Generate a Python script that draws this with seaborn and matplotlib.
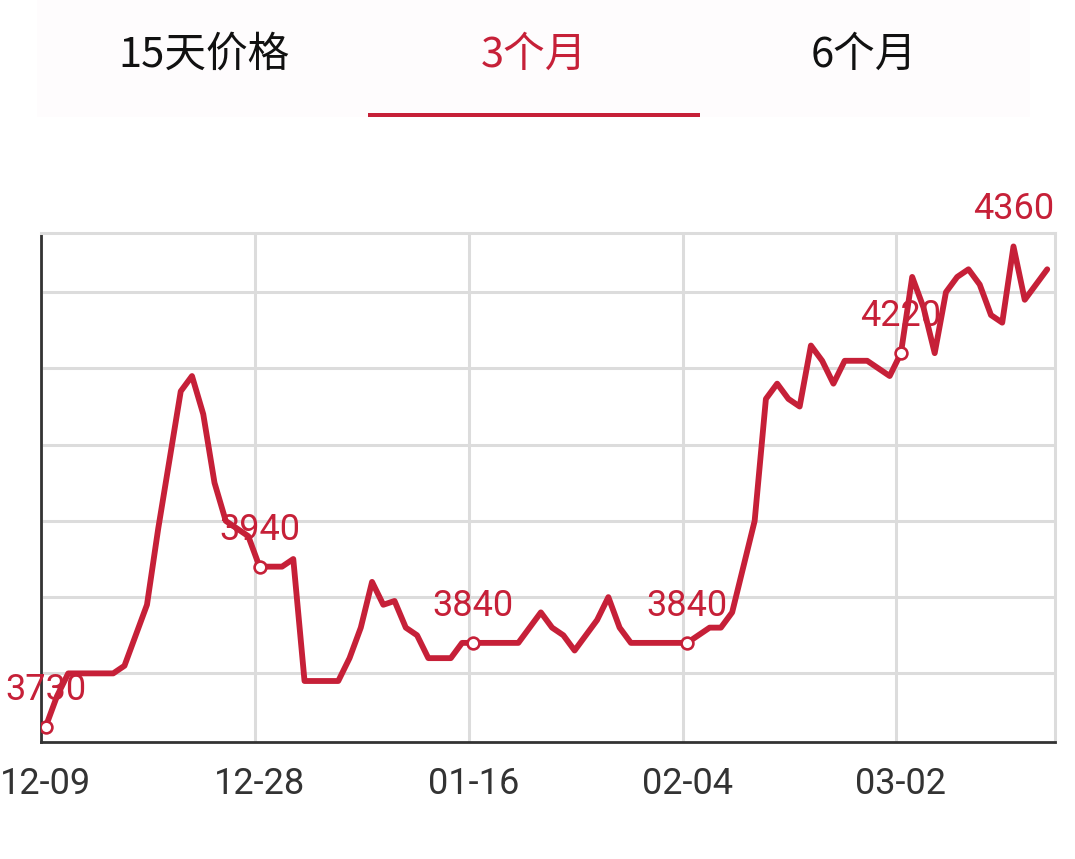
import numpy as np
import pandas as pd
import matplotlib
matplotlib.use('Agg')
import matplotlib.pyplot as plt
import seaborn as sns
from matplotlib.patches import Rectangle

# daily price, 3-month view (one value per data day)
prices = [3730, 3770, 3800, 3800, 3800, 3800, 3800, 3810, 3850, 3890,
          3990, 4080, 4170, 4190, 4140, 4050, 4000, 3990, 3980, 3940,
          3940, 3940, 3950, 3790, 3790, 3790, 3790, 3820, 3860, 3920,
          3890, 3895, 3860, 3850, 3820, 3820, 3820, 3840, 3840, 3840,
          3840, 3840, 3840, 3860, 3880, 3860, 3850, 3830, 3850, 3870,
          3900, 3860, 3840, 3840, 3840, 3840, 3840, 3840, 3850, 3860,
          3860, 3880, 3940, 4000, 4160, 4180, 4160, 4150, 4230, 4210,
          4180, 4210, 4210, 4210, 4200, 4190, 4220, 4320, 4280, 4220,
          4300, 4320, 4330, 4310, 4270, 4260, 4360, 4290, 4310, 4330]
tick_labels = ['12-09', '12-28', '01-16', '02-04', '03-02']
tick_step = 19
grid_vals = [3800, 3900, 4000, 4100, 4200, 4300]
tabs = ['15天价格', '3个月', '6个月']
active_tab = 1

RED = '#c62038'
GRID = '#dcdcdc'
DARK = '#333333'
CJK = ['Noto Sans CJK SC', 'DejaVu Sans']

sns.set_theme(style='white')
plt.rcParams['font.family'] = ['Roboto', 'Noto Sans CJK SC', 'DejaVu Sans']

W, H = 1075, 859
fig = plt.figure(figsize=(W / 100, H / 100), dpi=100)

# tab header
fig.patches.append(Rectangle((37 / W, 1 - 117 / H), (1030 - 37) / W, 117 / H,
                             transform=fig.transFigure, facecolor='#fefcfd',
                             edgecolor='none', zorder=0))
tab_w = 330
for k, name in enumerate(tabs):
    cx = 39 + tab_w * (k + 0.5)
    is_on = k == active_tab
    fig.text(cx / W, 1 - 55 / H, name, ha='center', va='center',
             fontsize=30, family=CJK, color=RED if is_on else '#111111',
             fontweight='medium' if is_on else 'normal')
    if is_on:
        fig.patches.append(Rectangle(((cx - 166) / W, 1 - 116.5 / H), 332 / W, 3.5 / H,
                                     transform=fig.transFigure, facecolor=RED,
                                     edgecolor='none', zorder=1))

ax = fig.add_axes([41 / W, 1 - 742 / H, 1014 / W, (742 - 232.7) / H])

df = pd.DataFrame({'idx': np.arange(len(prices)), 'price': prices})
tick_idx = list(range(0, len(prices), tick_step))[:len(tick_labels)]

sns.lineplot(data=df, x='idx', y='price', ax=ax, color=RED, lw=4.2,
             solid_joinstyle='round', solid_capstyle='round', zorder=3)

marked = df.iloc[tick_idx]
sns.scatterplot(data=marked, x='idx', y='price', ax=ax, s=72, marker='o',
                facecolor='white', edgecolor=RED, linewidth=1.9, zorder=4)

imax = int(np.argmax(prices))
for i in tick_idx + [imax]:
    ax.annotate(str(prices[i]), (i, prices[i]), xytext=(0, 19.5),
                textcoords='offset points', ha='center', va='baseline',
                color=RED, fontsize=26, zorder=5, annotation_clip=False)

ax.set_xlim(-0.418, 89.69)
ax.set_ylim(3710, 4378)
ax.set_xticks(tick_idx)
ax.set_xticklabels(tick_labels, fontsize=26, color=DARK)
ax.set_yticks(grid_vals)
ax.set_yticklabels([])
ax.tick_params(axis='x', length=0, pad=17.5)
ax.tick_params(axis='y', length=0)
ax.set_xlabel('')
ax.set_ylabel('')

ax.grid(axis='y', color=GRID, lw=2.2, zorder=1)
for gx in tick_idx:
    ax.axvline(gx - 0.4, color=GRID, lw=2.2, zorder=1)

for side in ['left', 'bottom']:
    ax.spines[side].set_color(DARK)
    ax.spines[side].set_linewidth(2.0)
for side in ['top', 'right']:
    ax.spines[side].set_color(GRID)
    ax.spines[side].set_linewidth(2.2)

fig.savefig('out.png', dpi=100)
